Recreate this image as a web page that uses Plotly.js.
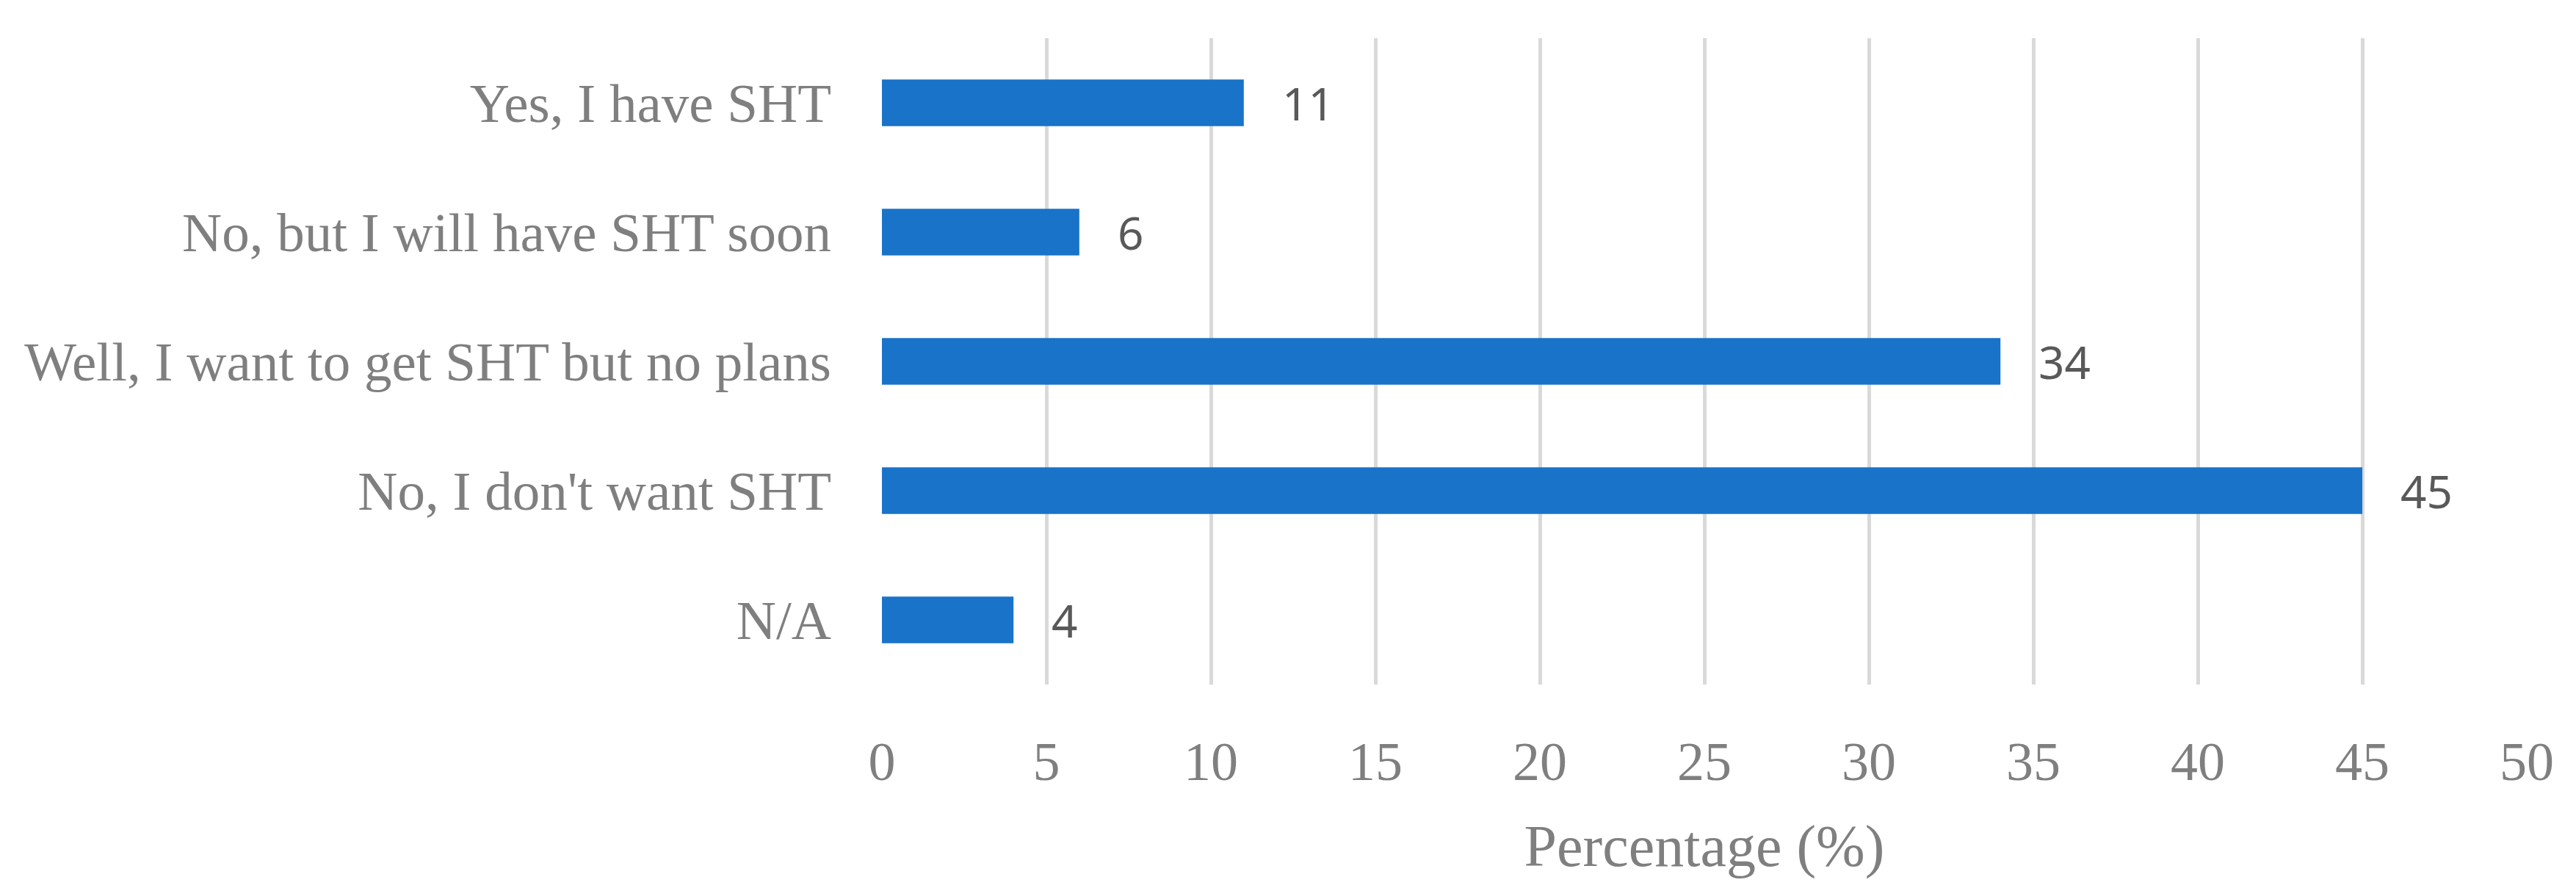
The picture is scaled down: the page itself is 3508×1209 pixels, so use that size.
<!DOCTYPE html>
<html>
<head>
<meta charset="utf-8">
<script src="https://cdn.plot.ly/plotly-3.0.1.min.js"></script>
<style>html,body{margin:0;padding:0;background:#fff;}</style>
</head>
<body>
<div id="chart" style="width:3508px;height:1209px;"></div>
<script>
var categories = ["Yes, I have SHT", "No, but I will have SHT soon", "Well, I want to get SHT but no plans", "No, I don't want SHT", "N/A"];
var values = [11, 6, 34, 45, 4];
var xTicks = [0, 5, 10, 15, 20, 25, 30, 35, 40, 45, 50];
var xTitle = "Percentage (%)";

var trace = {
  type: "bar",
  orientation: "h",
  x: values,
  y: categories,
  marker: {color: "#1873C9"},
  width: 0.36,
  hoverinfo: "none"
};

var annotations = values.map(function (v, i) {
  return {
    x: v, y: categories[i], xref: "x", yref: "y",
    text: String(v), showarrow: false,
    xanchor: "left", yanchor: "middle", xshift: 50,
    font: {family: "Noto Sans, Open Sans, sans-serif", size: 62, color: "#595959"}
  };
});

var layout = {
  width: 3508, height: 1209,
  margin: {l: 1201, r: 67, t: 52, b: 277, pad: 0},
  paper_bgcolor: "#ffffff", plot_bgcolor: "#ffffff",
  showlegend: false,
  xaxis: {
    range: [0, 50],
    tickvals: xTicks,
    ticktext: xTicks.map(String),
    showgrid: true, gridcolor: "#d9d9d9", gridwidth: 5,
    zeroline: false, showline: false, ticks: "",
    ticklabelstandoff: 55,
    tickfont: {family: "Liberation Serif, Times New Roman, serif", size: 74, color: "#7f7f7f"},
    title: {text: xTitle, standoff: 45, font: {family: "Liberation Serif, Times New Roman, serif", size: 80, color: "#7f7f7f"}},
    fixedrange: true
  },
  yaxis: {
    type: "category",
    categoryorder: "array",
    categoryarray: categories.slice().reverse(),
    showgrid: false, zeroline: false, showline: false, ticks: "",
    ticklabelstandoff: 68,
    tickfont: {family: "Liberation Serif, Times New Roman, serif", size: 75, color: "#7f7f7f"},
    fixedrange: true
  },
  annotations: annotations
};

Plotly.newPlot("chart", [trace], layout, {displayModeBar: false, staticPlot: true});
</script>
</body>
</html>
